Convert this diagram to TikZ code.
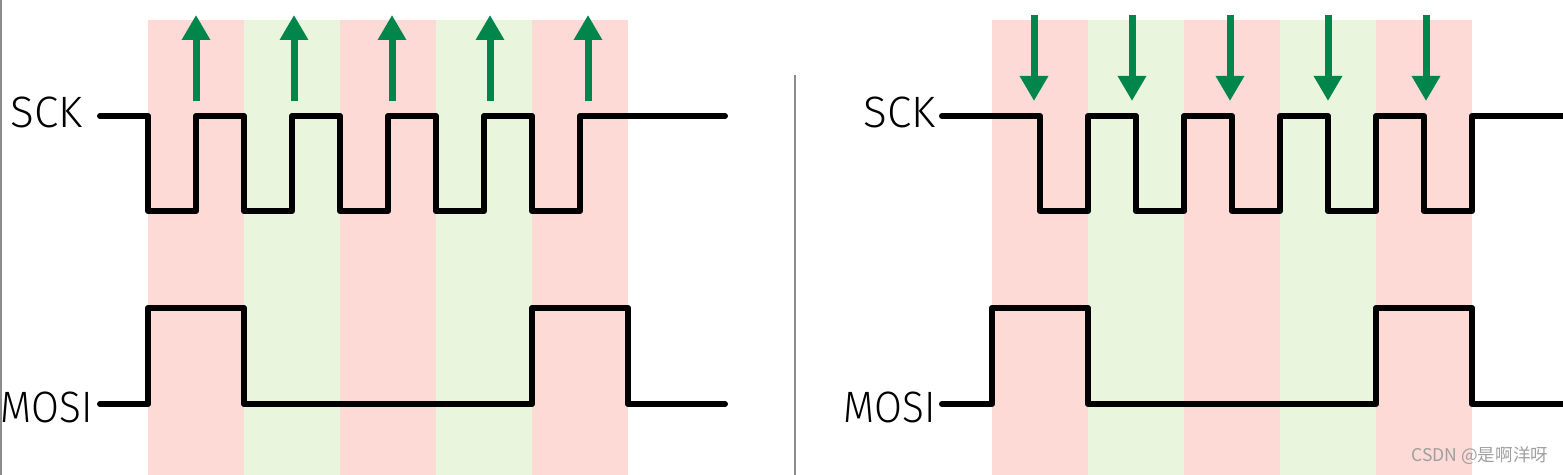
\documentclass[tikz,border=0pt]{standalone}
\usepackage{fontspec}
\setmainfont{Fira Sans}[UprightFont={* Light}]
\newfontfamily\cjk{Noto Sans CJK SC}
\usetikzlibrary{arrows.meta}

\definecolor{bandred}{HTML}{FDDAD6}
\definecolor{bandgreen}{HTML}{E9F6DD}
\definecolor{edgegreen}{HTML}{00864A}
\definecolor{rulegray}{HTML}{8C8C8C}

\tikzset{
  wave/.style={line width=0.12cm, line join=round, line cap=round, black},
  edgearrow/.style={line width=0.14cm, edgegreen, -{Triangle[width=0.54cm,length=0.5cm]}},
  siglabel/.style={anchor=base east, inner sep=0pt, font=\fontsize{25}{26}\selectfont},
}

\begin{document}
\begin{tikzpicture}[x=0.02cm, y=-0.02cm]
\useasboundingbox (0,0) rectangle (1563,475);

% bit cells, left and right
\foreach \xa/\col in {148/bandred,244/bandgreen,340/bandred,436/bandgreen,532/bandred}
  \fill[\col] (\xa,20) rectangle ++(96,455);
\foreach \xa/\col in {992/bandred,1088/bandgreen,1184/bandred,1280/bandgreen,1376/bandred}
  \fill[\col] (\xa,20) rectangle ++(96,455);

% frame line and divider
\draw[rulegray, line width=0.04cm] (1,0) -- (1,475);
\draw[rulegray, line width=0.04cm] (795,75) -- (795,475);

% labels
\node[siglabel] (sckL) at (83,128) {SCK};
\node[siglabel] (mosiL) at (93,423) {\scalebox{0.92}[1]{MOSI}};
\node[siglabel] (sckR) at (936,128) {SCK};
\node[siglabel] (mosiR) at (936,423) {\scalebox{0.92}[1]{MOSI}};

% SCK, idle high, sampled on rising edge
\draw[wave] (100,116) -- (148,116)
  \foreach \xa in {148,244,340,436,532} {
    -- (\xa,211) -- (\xa+48,211) -- (\xa+48,116) -- (\xa+96,116)
  } -- (725,116);

% SCK, idle high, sampled on falling edge
\draw[wave] (942,116) -- (1040,116)
  \foreach \xa in {1040,1136,1232,1328,1424} {
    -- (\xa,211) -- (\xa+48,211) -- (\xa+48,116) -- (\xa+96,116)
  } -- (1563,116);

% MOSI data
\draw[wave] (100,404) -- (148,404) -- (148,308) -- (244,308) -- (244,404)
  -- (532,404) -- (532,308) -- (628,308) -- (628,404) -- (725,404);
\draw[wave] (942,404) -- (992,404) -- (992,308) -- (1088,308) -- (1088,404)
  -- (1376,404) -- (1376,308) -- (1472,308) -- (1472,404) -- (1563,404);

% sampling edges
\foreach \k in {0,...,4} {
  \draw[edgearrow] (196+98*\k,101) -- (196+98*\k,15);
  \draw[edgearrow] (1034+98*\k,15) -- (1034+98*\k,101);
}

% watermark
\node[anchor=west, inner sep=0pt, text=gray!75, font=\cjk\fontsize{10}{12}\selectfont]
  (mark) at (1411,456) {CSDN @是啊洋呀};
\end{tikzpicture}
\end{document}
